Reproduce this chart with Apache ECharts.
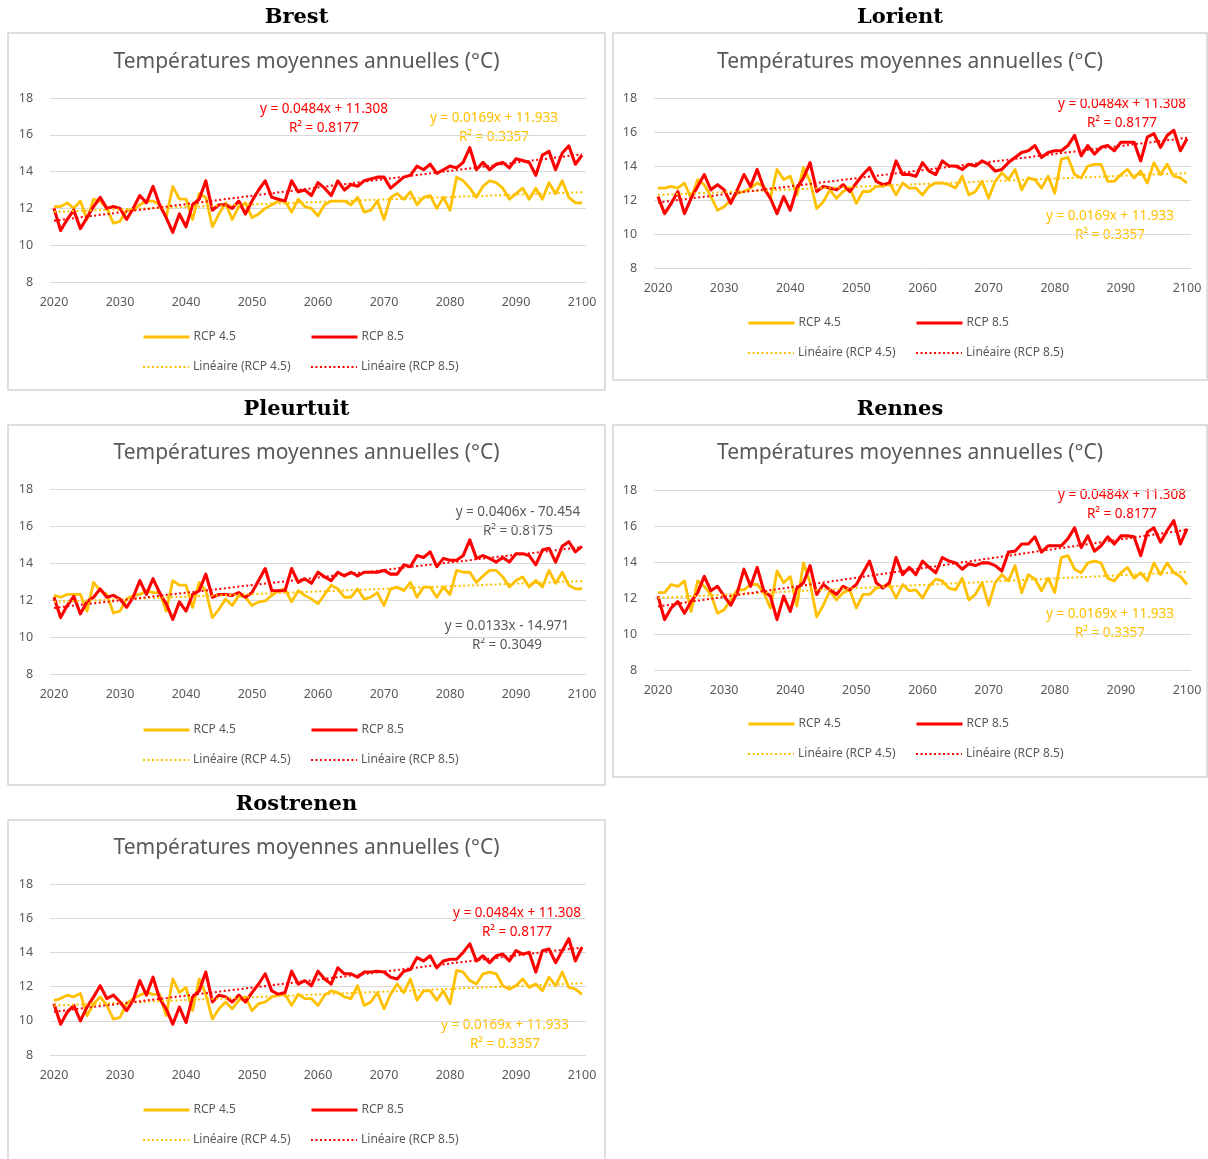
<!DOCTYPE html>
<html>
<head>
<meta charset="utf-8">
<script src="https://cdn.jsdelivr.net/npm/echarts@6/dist/echarts.min.js"></script>
<style>
  html, body { margin: 0; padding: 0; background: #ffffff; }
  #chart { width: 1208px; height: 1159px; }
</style>
</head>
<body>
<div id="chart"></div>
<script>
// Annual mean temperature projections (°C), 2020-2100, two RCP scenarios per station.
const START_YEAR = 2020;
const END_YEAR = 2100;
const X_TICKS = [2020, 2030, 2040, 2050, 2060, 2070, 2080, 2090, 2100];
const STATIONS = ['Brest', 'Lorient', 'Pleurtuit', 'Rennes', 'Rostrenen'];
const CHART_TITLE = 'Températures moyennes annuelles (°C)';
const NAME_45 = 'RCP 4.5';
const NAME_85 = 'RCP 8.5';
const NAME_LIN45 = 'Linéaire (RCP 4.5)';
const NAME_LIN85 = 'Linéaire (RCP 8.5)';

const brest45 = [12.1,12.1,12.3,12.0,12.4,11.4,12.5,12.4,12.0,11.2, 11.3,11.9,11.9,12.2,12.4,12.4,12.2,11.5,13.2,12.5,
  12.5,11.4,12.8,12.6,11.0,11.7,12.3,11.4,12.1,12.3, 11.5,11.7,12.0,12.2,12.4,12.4,11.8,12.5,12.1,12.0,
  11.6,12.2,12.4,12.4,12.4,12.2,12.6,11.8,11.9,12.4, 11.4,12.6,12.8,12.5,12.9,12.2,12.6,12.7,12.0,12.6,
  11.9,13.7,13.5,13.1,12.6,13.2,13.5,13.4,13.1,12.5, 12.8,13.1,12.5,13.1,12.5,13.4,12.8,13.5,12.6,12.3, 12.3];
const brest85 = [12.0,10.8,11.4,11.9,10.9,11.5,12.1,12.6,12.0,12.1, 12.0,11.4,12.0,12.7,12.3,13.2,12.2,11.5,10.7,11.7,
  11.0,12.2,12.5,13.5,11.9,12.2,12.2,12.0,12.4,11.7, 12.4,13.0,13.5,12.6,12.5,12.4,13.5,12.9,13.0,12.7,
  13.4,13.1,12.7,13.5,13.0,13.3,13.2,13.5,13.6,13.7, 13.7,13.1,13.4,13.7,13.8,14.3,14.1,14.4,13.9,14.1,
  14.3,14.2,14.5,15.3,14.1,14.5,14.1,14.4,14.5,14.2, 14.7,14.6,14.5,13.8,14.9,15.1,14.1,15.0,15.4,14.4, 14.9];

const lorient45 = [12.7,12.7,12.8,12.7,13.0,12.1,13.2,12.9,12.2,11.4, 11.6,12.0,12.4,12.5,12.7,13.0,12.8,12.1,13.8,13.2,
  13.4,12.3,13.9,13.1,11.5,11.9,12.6,12.1,12.5,12.7, 11.8,12.5,12.5,12.8,12.8,13.0,12.3,13.0,12.7,12.7,
  12.3,12.8,13.0,13.0,12.9,12.7,13.4,12.3,12.5,13.1, 12.1,13.1,13.6,13.2,13.8,12.6,13.3,13.2,12.7,13.4,
  12.4,14.4,14.5,13.5,13.3,14.0,14.1,14.1,13.1,13.1, 13.5,13.8,13.3,13.7,13.0,14.2,13.5,14.1,13.4,13.3, 13.0];
const lorient85 = [12.2,11.2,11.8,12.5,11.2,12.1,12.8,13.5,12.6,12.9, 12.6,11.8,12.6,13.5,12.8,13.8,12.7,12.1,11.2,12.2,
  11.4,12.7,13.3,14.2,12.5,12.8,12.7,12.6,12.9,12.5, 13.0,13.5,13.9,13.1,12.9,13.0,14.3,13.5,13.5,13.4,
  14.2,13.7,13.5,14.3,14.0,14.0,13.8,14.1,14.0,14.3, 14.1,13.7,13.8,14.2,14.5,14.8,14.9,15.2,14.5,14.8,
  14.9,14.9,15.2,15.8,14.6,15.2,14.7,15.1,15.2,14.9, 15.4,15.4,15.4,14.3,15.7,15.9,15.1,15.8,16.1,14.9, 15.6];

const pleurtuit45 = [12.25,12.15,12.3,12.3,12.3,11.4,12.95,12.5,12.3,11.3, 11.4,12.05,12.25,12.3,12.5,12.4,12.4,11.4,13.05,12.8,
  12.8,11.6,12.95,12.5,11.05,11.5,12.05,11.7,12.25,12.15, 11.7,11.9,11.95,12.25,12.5,12.6,11.9,12.5,12.25,12.05,
  11.8,12.3,12.8,12.6,12.15,12.15,12.6,12.05,12.15,12.4, 11.7,12.6,12.7,12.5,12.95,12.15,12.7,12.7,12.15,12.7,
  12.3,13.6,13.5,13.5,12.95,13.3,13.6,13.6,13.25,12.7, 13.05,13.25,12.7,13.05,12.7,13.6,12.9,13.5,12.8,12.6, 12.6];
const pleurtuit85 = [12.15,11.05,11.7,12.2,11.25,11.9,12.15,12.6,12.15,12.25, 12.05,11.6,12.15,13.05,12.3,13.15,12.4,11.8,10.95,11.9,
  11.4,12.3,12.5,13.4,12.15,12.3,12.3,12.25,12.4,12.15, 12.4,13.05,13.7,12.5,12.5,12.5,13.7,12.95,13.15,12.9,
  13.5,13.25,13.05,13.5,13.3,13.5,13.3,13.5,13.5,13.5, 13.6,13.4,13.4,13.9,13.8,14.4,14.3,14.6,13.8,14.25,
  14.15,14.15,14.4,15.25,14.25,14.4,14.25,14.05,14.3,14.05, 14.5,14.5,14.4,13.9,14.7,14.8,14.05,14.9,15.15,14.6, 14.9];

const rennes45 = [12.3,12.3,12.75,12.65,12.95,11.25,12.95,12.65,12.2,11.15, 11.35,11.9,12.45,12.45,12.75,12.75,12.3,11.45,13.5,12.85,
  13.2,11.55,13.95,12.85,10.95,11.6,12.4,11.9,12.3,12.45, 11.45,12.2,12.2,12.55,12.65,12.75,12.0,12.75,12.4,12.45,
  12.0,12.65,13.05,12.95,12.55,12.45,13.1,11.9,12.2,12.85, 11.6,12.85,13.3,12.95,13.8,12.3,13.3,13.05,12.4,13.1,
  12.3,14.25,14.35,13.6,13.4,13.95,14.05,13.95,13.1,12.95, 13.4,13.7,13.1,13.4,12.95,13.95,13.3,13.95,13.4,13.2, 12.75];
const rennes85 = [12.1,10.8,11.45,11.8,11.15,11.8,12.3,13.2,12.4,12.65, 12.1,11.6,12.3,13.6,12.65,13.7,12.4,12.1,10.8,12.1,
  11.25,12.55,12.85,13.8,12.2,12.75,12.45,12.2,12.65,12.45, 12.75,13.4,14.05,12.85,12.55,12.85,14.25,13.3,13.7,13.3,
  14.05,13.7,13.4,14.25,14.05,13.95,13.6,13.9,13.8,13.95, 13.95,13.8,13.5,14.55,14.6,15.0,15.0,15.4,14.55,14.9,
  14.9,14.9,15.3,15.9,14.8,15.45,14.6,14.9,15.4,15.0, 15.45,15.45,15.4,14.35,15.65,15.9,15.1,15.75,16.3,15.0, 15.85];

const rostrenen45 = [11.2,11.3,11.5,11.4,11.6,10.3,11.0,11.4,10.9,10.1, 10.2,11.0,11.3,11.5,11.65,11.55,11.55,10.3,12.45,11.65,
  11.95,10.6,12.45,11.55,10.1,10.7,11.1,10.7,11.2,11.4, 10.6,11.0,11.1,11.4,11.5,11.55,10.9,11.55,11.3,11.3,
  10.9,11.5,11.75,11.65,11.4,11.3,12.05,10.9,11.1,11.65, 10.7,11.55,12.15,11.65,12.45,11.2,11.75,11.75,11.2,11.75,
  11.0,12.95,12.85,12.35,12.15,12.75,12.85,12.75,12.05,11.85, 12.05,12.45,11.95,12.15,11.75,12.55,12.05,12.85,11.95,11.85, 11.55];
const rostrenen85 = [11.0,9.8,10.5,10.9,10.0,10.8,11.4,12.05,11.3,11.5, 11.1,10.6,11.2,12.35,11.5,12.55,11.3,10.7,9.8,10.8,
  9.9,11.4,11.75,12.85,11.1,11.5,11.4,11.1,11.5,11.1, 11.65,12.15,12.75,11.75,11.55,11.65,12.9,12.15,12.35,12.05,
  12.9,12.45,12.15,13.1,12.75,12.75,12.55,12.85,12.85,12.9, 12.85,12.55,12.45,12.9,13.0,13.7,13.5,13.8,13.1,13.5,
  13.6,13.6,14.0,14.5,13.5,13.8,13.4,13.8,13.9,13.5, 14.1,13.9,14.0,12.85,14.1,14.2,13.4,14.1,14.8,13.5, 14.3];

// Trend-line equations as printed on each chart
const eqBrest = [['y = 0.0484x + 11.308', 'R² = 0.8177'], ['y = 0.0169x + 11.933', 'R² = 0.3357']];
const eqLorient = [['y = 0.0484x + 11.308', 'R² = 0.8177'], ['y = 0.0169x + 11.933', 'R² = 0.3357']];
const eqPleurtuit = [['y = 0.0406x - 70.454', 'R² = 0.8175'], ['y = 0.0133x - 14.971', 'R² = 0.3049']];
const eqRennes = [['y = 0.0484x + 11.308', 'R² = 0.8177'], ['y = 0.0169x + 11.933', 'R² = 0.3357']];
const eqRostrenen = [['y = 0.0484x + 11.308', 'R² = 0.8177'], ['y = 0.0169x + 11.933', 'R² = 0.3357']];

const DATA45 = [brest45, lorient45, pleurtuit45, rennes45, rostrenen45];
const DATA85 = [brest85, lorient85, pleurtuit85, rennes85, rostrenen85];
const EQUATIONS = [eqBrest, eqLorient, eqPleurtuit, eqRennes, eqRostrenen];

// ---- page layout of the five panels ----
const LAYOUT = [
  { box: [8, 33, 597, 357],  x0: 54,  x1: 582,  yTop: 98,  yBot: 282,  nameY: 18,  titleY: 62,  legX: [142, 310], legY: 338,
    eq: [{ x: 324, y: 118.5, c: '#FF0000' }, { x: 494, y: 127.5, c: '#FFC000' }] },
  { box: [613, 33, 594, 347], x0: 658, x1: 1187, yTop: 98,  yBot: 268,  nameY: 18,  titleY: 62,  legX: [747, 915], legY: 324,
    eq: [{ x: 1122, y: 113.5, c: '#FF0000' }, { x: 1110, y: 226, c: '#FFC000' }] },
  { box: [8, 425, 597, 360], x0: 54,  x1: 582,  yTop: 489, yBot: 674,  nameY: 410, titleY: 453, legX: [142, 310], legY: 731,
    eq: [{ x: 518, y: 521.5, c: '#595959' }, { x: 507, y: 635.5, c: '#595959' }] },
  { box: [613, 425, 594, 352], x0: 658, x1: 1187, yTop: 490, yBot: 670,  nameY: 410, titleY: 453, legX: [747, 915], legY: 725,
    eq: [{ x: 1122, y: 504.5, c: '#FF0000' }, { x: 1110, y: 623.5, c: '#FFC000' }] },
  { box: [8, 820, 597, 360], x0: 54,  x1: 582,  yTop: 884, yBot: 1055, nameY: 805, titleY: 848, legX: [142, 310], legY: 1111,
    eq: [{ x: 517, y: 922.5, c: '#FF0000' }, { x: 505, y: 1034.5, c: '#FFC000' }] }
];

const YELLOW = '#FFC000';
const RED = '#FF0000';
const GREY = '#595959';
const SANS = '"Noto Sans", "Open Sans", sans-serif';
const PAD = 0.6; // half-category padding on each side of the year axis

const YEARS = [];
for (let y = START_YEAR; y <= END_YEAR; y++) YEARS.push(y);

function pairs(values) {
  return YEARS.map((yr, i) => [yr, values[i]]);
}

// Least-squares trend over the yearly values, drawn across the data range
function trend(values) {
  const n = YEARS.length;
  let sx = 0, sy = 0, sxx = 0, sxy = 0;
  for (let i = 0; i < n; i++) {
    sx += YEARS[i]; sy += values[i];
    sxx += YEARS[i] * YEARS[i]; sxy += YEARS[i] * values[i];
  }
  const b = (n * sxy - sx * sy) / (n * sxx - sx * sx);
  const a = (sy - b * sx) / n;
  return [[START_YEAR, a + b * START_YEAR], [END_YEAR, a + b * END_YEAR]];
}

const grids = [], xAxes = [], yAxes = [], series = [], legends = [], graphics = [];

LAYOUT.forEach((L, i) => {
  const k = (L.x1 - L.x0) / (END_YEAR - START_YEAR);
  grids.push({
    left: L.x0 - PAD * k,
    top: L.yTop,
    width: (END_YEAR - START_YEAR + 2 * PAD) * k,
    height: L.yBot - L.yTop
  });
  xAxes.push({
    gridIndex: i, type: 'value',
    min: START_YEAR - PAD, max: END_YEAR + PAD,
    axisLine: { show: false }, axisTick: { show: false }, splitLine: { show: false },
    axisLabel: { customValues: X_TICKS, color: GREY, fontSize: 12.5, fontFamily: SANS, margin: 14,
                 formatter: v => String(Math.round(v)) }
  });
  yAxes.push({
    gridIndex: i, type: 'value', min: 8, max: 18, interval: 2,
    axisLine: { show: false }, axisTick: { show: false },
    splitLine: { lineStyle: { color: '#D9D9D9', width: 1 } },
    axisLabel: { color: GREY, fontSize: 12.5, fontFamily: SANS, margin: 17 }
  });

  const common = { xAxisIndex: i, yAxisIndex: i, type: 'line', symbol: 'none', silent: true, animation: false };
  series.push(Object.assign({}, common, {
    name: NAME_45, data: pairs(DATA45[i]), z: 2,
    lineStyle: { color: YELLOW, width: 2.8, join: 'round' }, itemStyle: { color: YELLOW }
  }));
  series.push(Object.assign({}, common, {
    name: NAME_85, data: pairs(DATA85[i]), z: 3,
    lineStyle: { color: RED, width: 3.1, join: 'round' }, itemStyle: { color: RED }
  }));
  series.push(Object.assign({}, common, {
    name: NAME_LIN45, data: trend(DATA45[i]), z: 4,
    lineStyle: { color: YELLOW, width: 2, type: [2, 2.5] }, itemStyle: { color: YELLOW }
  }));
  series.push(Object.assign({}, common, {
    name: NAME_LIN85, data: trend(DATA85[i]), z: 4,
    lineStyle: { color: RED, width: 2, type: [2, 2.5] }, itemStyle: { color: RED }
  }));

  const legendBase = {
    itemWidth: 46, itemHeight: 14, itemGap: 0, selectedMode: false,
    itemStyle: { opacity: 0 },
    textStyle: { color: GREY, fontSize: 12, fontFamily: SANS, padding: [0, 0, 0, -1] },
    padding: 0
  };
  [[NAME_45, 0, 0, 3], [NAME_85, 1, 0, 3], [NAME_LIN45, 0, 1, 2], [NAME_LIN85, 1, 1, 2]].forEach(([nm, col, row, lw]) => {
    legends.push(Object.assign({}, legendBase, {
      data: [nm], left: L.legX[col], top: L.legY - 7 + row * 30,
      lineStyle: { width: lw }
    }));
  });

  const [bx, by, bw, bh] = L.box;
  const cx = bx + bw / 2;
  graphics.push({
    type: 'rect', silent: true, z: -10,
    shape: { x: bx, y: by, width: bw, height: bh },
    style: { fill: 'none', stroke: '#D4D4D4', lineWidth: 1.5 }
  });
  graphics.push({
    type: 'text', silent: true, x: cx - 10, y: L.nameY,
    style: { text: STATIONS[i], fill: '#000000', font: 'bold 21px "DejaVu Serif", "Liberation Serif", serif',
             align: 'center', verticalAlign: 'middle', textAlign: 'center', textVerticalAlign: 'middle' }
  });
  graphics.push({
    type: 'text', silent: true, x: cx, y: L.titleY,
    style: { text: CHART_TITLE, fill: GREY, font: '21px ' + SANS,
             align: 'center', verticalAlign: 'middle', textAlign: 'center', textVerticalAlign: 'middle' }
  });
  L.eq.forEach((p, j) => {
    graphics.push({
      type: 'text', silent: true, x: p.x, y: p.y,
      style: { text: EQUATIONS[i][j].join('\n'), fill: p.c, font: '13.5px ' + SANS, lineHeight: 19,
               align: 'center', verticalAlign: 'middle', textAlign: 'center', textVerticalAlign: 'middle' }
    });
  });
});

const chart = echarts.init(document.getElementById('chart'), null, { renderer: 'canvas' });
chart.setOption({
  backgroundColor: '#ffffff',
  animation: false,
  grid: grids,
  xAxis: xAxes,
  yAxis: yAxes,
  legend: legends,
  series: series,
  graphic: { elements: graphics }
});
</script>
</body>
</html>
